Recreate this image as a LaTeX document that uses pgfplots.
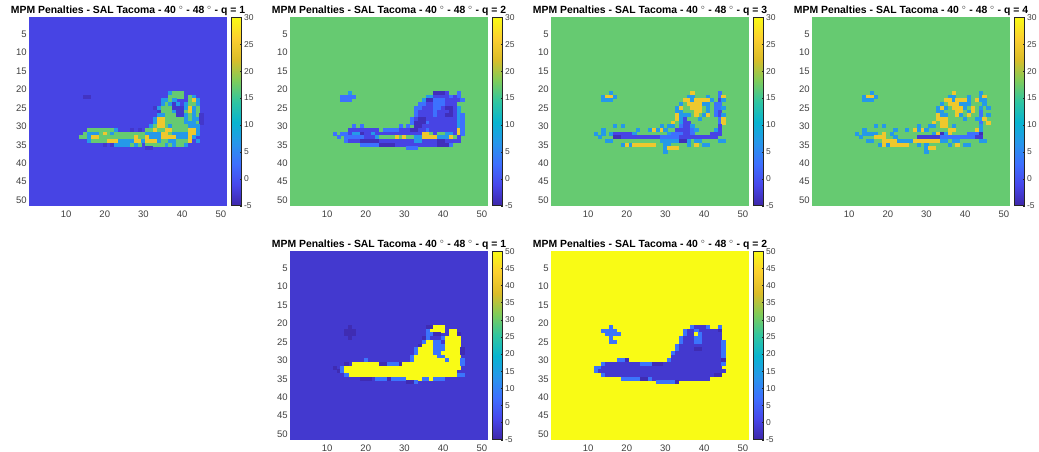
\documentclass[border=0pt]{standalone}
\usepackage{pgfplots}
\pgfplotsset{compat=1.18}
\usepackage{fontspec}
\setmainfont{Liberation Sans}
\definecolor{tk}{gray}{0.25}
\pgfplotsset{
 colormap={parula}{rgb=(.2422,.1504,.6603) rgb=(.2803,.2782,.9221) rgb=(.2440,.4358,.9988) rgb=(.1540,.5902,.9218) rgb=(.0297,.7082,.8163) rgb=(.1938,.7758,.6251) rgb=(.5044,.7993,.3480) rgb=(.8634,.7406,.1596) rgb=(.9892,.8136,.1885) rgb=(.9769,.9839,.0805)},
}
\pgfdeclareplotmark{cell}{\pgfmathsetlengthmacro\cwd{\cw*3.87pt+0.3pt}\pgfpathrectangle{\pgfpoint{-0.5*\cwd}{-1.95pt}}{\pgfpoint{\cwd}{3.9pt}}\pgfusepathqfill}
\pgfdeclareplotmark{bgcell}{\pgfpathrectangle{\pgfpoint{-98.7pt}{-94.2pt}}{\pgfpoint{197.4pt}{188.4pt}}\pgfusepathqfill}
\pgfplotsset{
 panel/.style n args={2}{
  scale only axis, width=197.4pt, height=188.4pt,
  xmin=0.5, xmax=51.5, ymin=0.5, ymax=51.5, y dir=reverse,
  xtick={10,20,30,40,50}, ytick={5,10,...,50},
  tick align=inside, tick pos=both, major tick length=2pt,
  axis line style={color=black!85, line width=0.5pt},
  tick style={color=black!85, line width=0.4pt},
  /pgf/number format/assume math mode=true,
  ticklabel style={font=\fontsize{9.5}{10}\selectfont, color=tk},
  xticklabel style={yshift=-1.5pt},
  yticklabel style={xshift=1pt},
  title style={font=\bfseries\fontsize{10.4}{11}\selectfont, at={(0.5,1)}, anchor=south, yshift=-8pt},
  title={MPM Penalties - SAL Tacoma - 40 $^\circ$ - 48 $^\circ$ - q = #1},
  point meta min=-5, point meta max=#2,
  colorbar,
  colorbar style={width=10pt, height=188.4pt, xshift=-25.3pt, ytick={-5,0,...,#2},
    major tick length=2pt, tick align=inside, ytick pos=right,
    /pgf/number format/assume math mode=true,
    yticklabel style={font=\fontsize{8.5}{9}\selectfont, color=tk, xshift=-1pt},
    axis line style={color=black!85, line width=0.5pt},
    tick style={color=black!85, line width=0.4pt}},
 },
 cellrun/.style={scatter, only marks, mark=cell, point meta=explicit,
   visualization depends on={\thisrow{b}-\thisrow{a}+1 \as \cw}},
 backcell/.style={scatter, only marks, mark=bgcell, point meta=explicit},
}
\begin{document}
\begin{tikzpicture}[x=1pt,y=1pt]
\path[use as bounding box] (0,0) rectangle (1039,452);
% ---------- panel 1
\begin{axis}[at={(29.3pt,246.3pt)}, anchor=south west, panel={1}{30}]
\addplot[backcell] coordinates {(26,26) [-1.5]};
\addplot[cellrun] table [x expr={(\thisrow{a}+\thisrow{b})/2}, y=r, meta=z] {
a b r z
37 37 21 7
38 40 21 17
15 16 22 -3.5
37 40 22 17
42 42 22 17
43 43 22 7
35 36 23 7
37 37 23 17
38 38 23 7
42 42 23 17
43 43 23 24.5
44 44 23 7
35 35 24 7
36 36 24 17
37 37 24 7
38 38 24 -3
39 39 24 7
41 41 24 7
42 43 24 17
44 44 24 7
33 33 25 -3
34 34 25 7
35 37 25 17
38 40 25 -3
41 41 25 7
42 42 25 24.5
43 43 25 7
44 44 25 17
34 34 26 -3
35 37 26 17
38 38 26 7
39 40 26 -3
41 41 26 17
42 42 26 24.5
43 43 26 7
44 44 26 17
34 35 27 7
36 38 27 17
39 40 27 -3
41 41 27 7
42 42 27 17
43 43 27 7
44 44 27 17
45 45 27 -3
33 33 28 7
34 35 28 24.5
36 40 28 17
41 41 28 7
42 42 28 17
43 44 28 7
45 45 28 -3
33 33 29 7
34 35 29 24.5
36 40 29 17
41 43 29 7
44 44 29 17
45 45 29 -3
32 32 30 7
33 33 30 17
34 35 30 24.5
36 36 30 17
37 37 30 7
38 41 30 17
42 44 30 7
16 22 31 17
23 23 31 7
27 27 31 -3
29 29 31 -3
31 32 31 17
33 33 31 24.5
34 35 31 17
36 37 31 24.5
38 41 31 17
42 43 31 24.5
44 44 31 7
15 15 32 17
16 18 32 7
19 19 32 17
20 20 32 24.5
21 21 32 17
22 22 32 7
23 30 32 17
31 34 32 7
35 36 32 24.5
37 37 32 17
38 41 32 7
42 43 32 24.5
44 44 32 7
14 15 33 17
16 16 33 7
17 18 33 24.5
19 27 33 17
28 28 33 24.5
29 30 33 17
31 31 33 24.5
32 34 33 7
35 38 33 24.5
39 41 33 7
42 42 33 24.5
43 43 33 7
16 16 34 7
17 20 34 17
21 23 34 24.5
24 27 34 7
28 29 34 24.5
30 30 34 7
31 33 34 24.5
34 34 34 7
35 36 34 17
37 38 34 7
39 41 34 17
42 42 34 24.5
44 44 34 7
20 20 35 -3
22 22 35 -3
23 26 35 7
27 27 35 17
28 28 35 7
29 29 35 17
31 35 35 17
36 36 35 7
37 37 35 17
38 38 35 7
39 40 35 17
41 41 35 7
31 32 36 -3
};
\end{axis}
% ---------- panel 2
\begin{axis}[at={(290.3pt,246.3pt)}, anchor=south west, panel={2}{30}]
\addplot[backcell] coordinates {(26,26) [17]};
\addplot[cellrun] table [x expr={(\thisrow{a}+\thisrow{b})/2}, y=r, meta=z] {
a b r z
16 16 21 7
38 40 21 -4
41 41 21 -1.5
44 44 21 3
14 17 22 3
36 37 22 7
38 43 22 -1.5
42 42 22 3
44 44 22 3
14 16 23 3
35 35 23 7
36 37 23 -4
38 40 23 3
41 43 23 -1.5
44 44 23 -1.5
45 45 23 3
34 35 24 3
36 37 24 -1.5
38 40 24 3
41 43 24 -1.5
44 44 24 17
33 34 25 3
35 37 25 -1.5
38 39 25 3
40 40 25 -1.5
41 42 25 -4
43 43 25 -1.5
44 44 25 7
33 33 26 3
34 37 26 -1.5
38 38 26 3
39 41 26 -1.5
42 42 26 -4
43 43 26 -1.5
44 44 26 7
33 33 27 3
34 37 27 -1.5
38 38 27 3
39 40 27 -1.5
41 42 27 -4
43 43 27 -1.5
44 44 27 7
45 45 27 3
32 32 28 3
33 43 28 -1.5
34 35 28 -4
44 44 28 7
45 45 28 3
32 32 29 3
33 35 29 -4
36 36 29 3
37 43 29 -1.5
44 44 29 7
45 45 29 3
17 17 30 3
19 19 30 3
29 29 30 3
31 31 30 3
33 34 30 -4
35 43 30 -1.5
44 44 30 7
45 45 30 3
16 23 31 -1.5
25 28 31 3
29 31 31 -1.5
32 33 31 -4
34 35 31 -1.5
36 36 31 3
37 43 31 -1.5
44 44 31 24.5
45 45 31 3
12 12 32 3
14 15 32 3
16 16 32 -1.5
17 18 32 7
19 19 32 -4
20 21 32 -1.5
22 22 32 7
23 34 32 -1.5
35 36 32 24.5
37 37 32 17
38 38 32 -1.5
39 40 32 17
41 42 32 7
43 43 32 -1.5
44 44 32 24.5
45 45 32 3
13 13 33 3
15 15 33 3
16 19 33 3
20 22 33 -1.5
23 23 33 7
24 27 33 17
28 28 33 24.5
29 29 33 17
30 30 33 24.5
31 32 33 17
33 34 33 7
35 38 33 24.5
39 41 33 7
42 42 33 24.5
43 43 33 17
44 44 33 -1.5
15 15 34 3
16 18 34 -1.5
19 23 34 -4
24 32 34 -1.5
33 34 34 7
35 38 34 -1.5
39 40 34 -4
41 44 34 -1.5
19 23 35 3
24 27 35 -4
28 31 35 -1.5
32 38 35 -1.5
39 41 35 -4
42 42 35 3
31 33 36 3
};
\end{axis}
% ---------- panel 3
\begin{axis}[at={(551.3pt,246.3pt)}, anchor=south west, panel={3}{30}]
\addplot[backcell] coordinates {(26,26) [17]};
\addplot[cellrun] table [x expr={(\thisrow{a}+\thisrow{b})/2}, y=r, meta=z] {
a b r z
16 16 21 7
37 37 21 24.5
44 44 21 3
14 14 22 7
15 16 22 24.5
17 17 22 7
36 37 22 7
41 41 22 7
44 44 22 3
45 45 22 24.5
14 16 23 7
35 36 23 24.5
37 37 23 7
38 41 23 24.5
42 42 23 7
44 44 23 -1.5
45 45 23 7
34 34 24 7
36 39 24 24.5
40 41 24 7
43 44 24 3
33 33 25 7
34 34 25 24.5
37 39 25 24.5
41 41 25 7
43 44 25 3
45 45 25 7
33 34 26 7
38 39 26 24.5
41 41 26 7
43 43 26 3
44 44 26 -1.5
33 33 27 24.5
34 36 27 7
38 38 27 24.5
40 40 27 7
41 41 27 24.5
43 43 27 3
44 44 27 -1.5
45 45 27 7
33 33 28 24.5
34 34 28 7
35 35 28 -1.5
39 39 28 7
44 44 28 3
45 45 28 24.5
32 32 29 24.5
34 34 29 7
35 36 29 -1.5
44 44 29 3
45 45 29 24.5
17 17 30 7
19 19 30 7
29 29 30 7
31 32 30 7
34 34 30 3
35 36 30 -1.5
37 37 30 7
44 44 30 -1.5
14 14 31 7
23 23 31 7
26 26 31 7
27 27 31 24.5
28 28 31 7
29 29 31 24.5
30 30 31 7
33 36 31 -1.5
37 37 31 3
38 38 31 7
43 43 31 7
44 44 31 -1.5
12 12 32 7
14 14 32 7
16 16 32 7
17 19 32 -1.5
20 21 32 -1.5
22 22 32 7
31 31 32 7
32 34 32 3
35 36 32 -1.5
37 37 32 3
42 44 32 -1.5
13 13 33 7
17 18 33 -4
19 28 33 -1.5
29 33 33 3
34 43 33 -1.5
15 16 34 7
29 33 34 7
34 35 34 -4
36 36 34 7
38 39 34 7
44 45 34 7
19 19 35 7
20 20 35 24.5
21 21 35 7
22 27 35 24.5
30 31 35 7
36 36 35 7
38 38 35 24.5
40 41 35 7
30 30 36 7
31 33 36 24.5
30 30 37 7
};
\end{axis}
% ---------- panel 4
\begin{axis}[at={(812.3pt,246.3pt)}, anchor=south west, panel={4}{30}]
\addplot[backcell] coordinates {(26,26) [17]};
\addplot[cellrun] table [x expr={(\thisrow{a}+\thisrow{b})/2}, y=r, meta=z] {
a b r z
16 16 21 7
37 37 21 24.5
44 44 21 7
14 14 22 7
15 16 22 24.5
17 17 22 7
36 37 22 7
41 41 22 7
44 44 22 7
45 45 22 24.5
14 16 23 7
35 36 23 24.5
37 37 23 7
38 40 23 24.5
41 41 23 7
43 43 23 24.5
44 45 23 7
34 34 24 7
36 38 24 24.5
39 41 24 7
45 45 24 7
33 33 25 7
34 34 25 24.5
35 35 25 7
37 39 25 24.5
40 40 25 7
42 42 25 24.5
44 44 25 7
46 46 25 7
33 34 26 7
38 39 26 24.5
41 41 26 7
42 42 26 24.5
44 44 26 3
33 33 27 24.5
34 35 27 7
38 38 27 24.5
39 39 27 7
41 41 27 24.5
44 44 27 3
46 46 27 7
33 33 28 24.5
34 35 28 24.5
40 40 28 7
43 44 28 7
45 45 28 24.5
32 32 29 24.5
34 35 29 24.5
44 44 29 3
46 46 29 24.5
17 17 30 7
19 19 30 7
28 28 30 7
31 32 30 7
34 35 30 24.5
37 37 30 7
44 44 30 7
14 14 31 7
22 22 31 7
25 25 31 7
27 27 31 24.5
28 28 31 7
29 29 31 24.5
30 30 31 7
36 37 31 24.5
43 43 31 24.5
44 44 31 7
12 12 32 7
14 14 32 7
15 17 32 7
19 19 32 24.5
21 21 32 7
32 33 32 7
33 33 32 24.5
34 34 32 -4
35 35 32 7
36 36 32 24.5
41 43 32 3
44 44 32 -4
13 13 33 7
17 19 33 24.5
22 22 33 7
28 33 33 -2.5
34 42 33 3
43 44 33 -2.5
15 16 34 7
19 22 34 24.5
23 26 34 7
27 30 34 24.5
31 33 34 24.5
34 35 34 7
37 38 34 7
44 45 34 7
18 18 35 7
19 19 35 24.5
20 20 35 7
21 25 35 24.5
28 28 35 7
30 30 35 7
36 36 35 7
38 38 35 24.5
40 41 35 7
30 30 36 7
31 32 36 24.5
30 30 37 7
};
\end{axis}
% ---------- panel 5
\begin{axis}[at={(290.3pt,12.3pt)}, anchor=south west, panel={1}{50}]
\addplot[backcell] coordinates {(26,26) [-1.5]};
\addplot[cellrun] table [x expr={(\thisrow{a}+\thisrow{b})/2}, y=r, meta=z] {
a b r z
16 16 21 -4
36 37 21 -4
38 40 21 50
15 17 22 -4
37 40 22 50
36 36 22 8
42 43 22 50
15 17 23 -4
36 37 23 8
38 39 23 -4
42 43 23 50
44 44 23 -4
16 16 24 -4
35 35 24 -4
36 36 24 8
40 40 24 8
41 44 24 50
36 37 25 50
35 35 25 8
38 39 25 8
41 44 25 50
34 34 26 -4
35 37 26 50
38 40 26 8
41 44 26 50
33 33 27 8
34 37 27 50
38 40 27 8
41 44 27 50
45 45 27 -4
33 33 28 8
34 37 28 50
38 39 28 8
40 44 28 50
45 45 28 -4
32 32 29 8
33 38 29 50
39 40 29 8
41 44 29 50
32 32 30 8
20 20 30 8
33 40 30 50
41 41 30 8
42 44 30 50
45 45 30 8
15 15 31 -4
17 23 31 50
24 25 31 -4
26 28 31 8
29 29 31 -4
30 44 31 50
45 45 31 8
12 12 32 -4
14 14 32 8
15 44 32 50
13 13 33 -4
14 14 33 8
15 43 33 50
16 43 34 50
44 45 34 8
15 15 34 8
19 21 35 -4
23 25 35 8
26 26 35 -4
27 30 35 8
31 34 35 50
35 36 35 8
37 37 35 50
38 40 35 8
31 32 36 -4
33 33 36 8
};
\end{axis}
% ---------- panel 6
\begin{axis}[at={(551.3pt,12.3pt)}, anchor=south west, panel={2}{50}]
\addplot[backcell] coordinates {(26,26) [50]};
\addplot[cellrun] table [x expr={(\thisrow{a}+\thisrow{b})/2}, y=r, meta=z] {
a b r z
16 16 21 8
37 37 21 8
38 40 21 -1.5
41 41 21 8
44 44 21 8
14 17 22 8
35 35 22 8
36 43 22 -1.5
38 38 22 8
44 44 22 -4
15 18 23 8
35 35 23 8
36 37 23 -1.5
38 38 23 50
39 39 23 8
40 44 23 -1.5
16 16 24 8
34 34 24 8
35 37 24 -1.5
38 39 24 8
40 44 24 -1.5
16 17 25 8
34 34 25 8
35 37 25 -1.5
38 39 25 8
40 44 25 -1.5
45 45 25 8
33 33 26 8
34 44 26 -1.5
45 45 26 8
33 33 27 8
34 44 27 -1.5
38 39 27 -4
45 45 27 8
32 32 28 8
33 44 28 -1.5
45 45 28 8
32 44 29 -1.5
45 45 29 8
18 19 30 8
20 20 30 -4
31 31 30 8
32 44 30 -1.5
45 45 30 -4
14 14 31 8
15 23 31 -1.5
24 24 31 8
25 26 31 8
27 29 31 -4
30 44 31 -1.5
45 45 31 8
12 13 32 8
14 44 32 -1.5
12 13 33 8
13 45 33 -1.5
14 14 34 8
15 42 34 -1.5
43 44 34 -4
19 24 35 8
24 25 35 -4
26 26 35 8
27 41 35 -1.5
28 30 36 8
31 32 36 8
33 33 36 -4
};
\end{axis}
\end{tikzpicture}
\end{document}
